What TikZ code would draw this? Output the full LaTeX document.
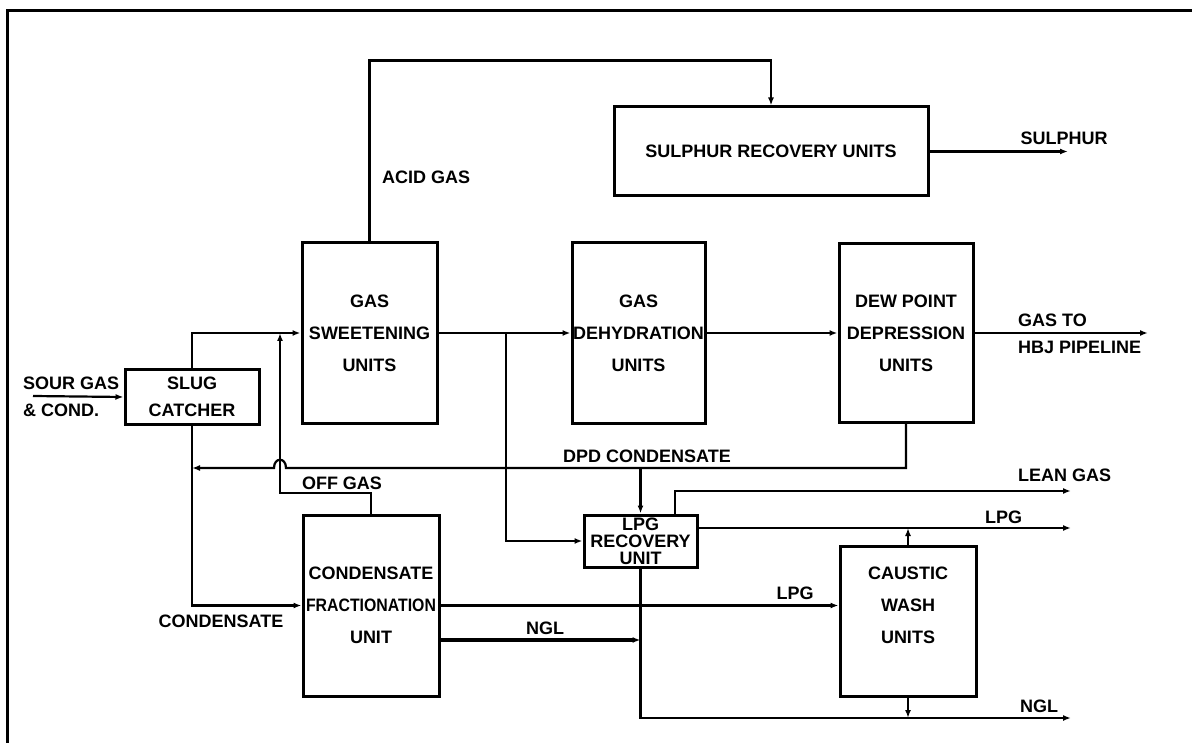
\documentclass[tikz,border=0pt]{standalone}
\usepackage{fontspec}
\setmainfont{Liberation Sans}
\usepackage{graphicx}
\usetikzlibrary{positioning}
\usetikzlibrary{arrows.meta}

\begin{document}
\begin{tikzpicture}[x=1pt, y=-1pt,
    unit/.style={draw, line width=3pt, inner sep=0pt, align=center,
        font=\fontsize{18}{32}\selectfont\bfseries},
    flow/.style={line width=2.2pt, -{Latex[length=8pt,width=6pt]}},
    lbl/.style={inner sep=0pt, font=\fontsize{18}{20}\selectfont\bfseries}]
    \useasboundingbox (0,0) rectangle (1192,743);
    \draw[line width=3pt] (7.5,743) -- (7.5,10.5) -- (1192,10.5);

    \node[unit, minimum width=134pt, minimum height=54pt, font=\fontsize{18}{27}\selectfont\bfseries] (slug) at (192,397) {SLUG\\CATCHER};
    \node[unit, minimum width=135pt, minimum height=180pt] (sweet) at (369.5,333) {GAS\\SWEETENING\\UNITS};
    \node[unit, minimum width=133pt, minimum height=181pt] (dehyd) at (638.5,333) {GAS\\DEHYDRATION\\UNITS};
    \node[unit, minimum width=134pt, minimum height=179pt] (dew) at (906,333) {DEW POINT\\DEPRESSION\\UNITS};
    \node[unit, minimum width=314pt, minimum height=89pt] (sulphur) at (771,151.5) {SULPHUR RECOVERY UNITS};
    \node[unit, minimum width=136pt, minimum height=181pt] (frac) at (371,605.5) {CONDENSATE\\\scalebox{0.88}[1]{FRACTIONATION}\\UNIT};
    \node[unit, minimum width=113pt, minimum height=52pt, font=\fontsize{18}{17}\selectfont\bfseries] (lpgrec) at (640.5,541) {LPG\\RECOVERY\\UNIT};
    \node[unit, minimum width=136pt, minimum height=150pt] (caustic) at (908,621) {CAUSTIC\\WASH\\UNITS\\~};

    \coordinate (sourin) at (33,396);
    \coordinate (sulout) at (1068,151.5);
    \coordinate (gasout) at (1148,333);
    \coordinate (lpgtap) at (506,333);
    \coordinate (offjoin) at (280,333);
    \coordinate (offbend) at (280,493);
    \coordinate (hopR) at (286,468);
    \coordinate (hopL) at (274,468);
    \coordinate (condjoin) at (192,468);
    \coordinate (dpdtap) at (640.5,468);
    \coordinate (leanout) at (1071,491);
    \coordinate (lpgout) at (1071,528);
    \coordinate (ngljoin) at (640.5,640);
    \coordinate (nglout) at (1071,718);

    \draw[flow] (sourin) -- (slug.west);
    \draw[flow] (slug.north) |- (sweet.west);
    \draw[flow] (sweet.north) -- ++(0,-181) -| (sulphur.north);
    \draw[flow] (sulphur.east) -- (sulout);
    \draw[flow] (sweet.east) -- (dehyd.west);
    \draw[flow] (dehyd.east) -- (dew.west);
    \draw[flow] (dew.east) -- (gasout);
    \draw[flow] (lpgtap) |- (lpgrec.west);
    \draw[flow] (dew.south) |- (hopR) .. controls (286,457) and (274,457) .. (hopL) -- (condjoin);
    \draw[flow] (dpdtap) -- (lpgrec.north);
    \draw[flow] (frac.north) |- (offbend) -- (offjoin);
    \draw[flow] (slug.south) |- (frac.west);
    \draw[flow] (frac.east) -- (frac.east -| caustic.west);
    \draw[flow, line width=3.5pt] (frac.east |- ngljoin) -- (ngljoin);
    \draw[flow] (lpgrec.south) |- (nglout);
    \draw[flow] (caustic.south) -- (caustic.south |- nglout);
    \draw[flow] (lpgrec.east |- lpgout) -- (lpgout);
    \draw[flow] (caustic.north) -- (caustic.north |- lpgout);
    \draw[flow] ([xshift=34.5pt]lpgrec.north) |- (leanout);

    \node[lbl, anchor=west] (acidlbl) at (382,177) {ACID GAS};
    \node[lbl] (sullbl) at (1064,138) {SULPHUR};
    \node[lbl, anchor=west] (gaslbl) at (1018,320) {GAS TO};
    \node[lbl, anchor=west] (hbjlbl) at (1018,347) {HBJ PIPELINE};
    \node[lbl, anchor=west] (sourlbl) at (23,383) {SOUR GAS};
    \node[lbl, anchor=west] (condlbl) at (23,410) {\& COND.};
    \node[lbl] (offlbl) at (342,483) {OFF GAS};
    \node[lbl] (dpdlbl) at (647,456) {DPD CONDENSATE};
    \node[lbl] (cndlbl) at (221,621) {CONDENSATE};
    \node[lbl] (lpglbl) at (795,593) {LPG};
    \node[lbl] (ngllbl) at (545,628) {NGL};
    \node[lbl, anchor=west] (leanlbl) at (1018,475) {LEAN GAS};
    \node[lbl, anchor=west] (lpgoutlbl) at (985,517) {LPG};
    \node[lbl, anchor=west] (ngloutlbl) at (1020,706) {NGL};
\end{tikzpicture}
\end{document}
